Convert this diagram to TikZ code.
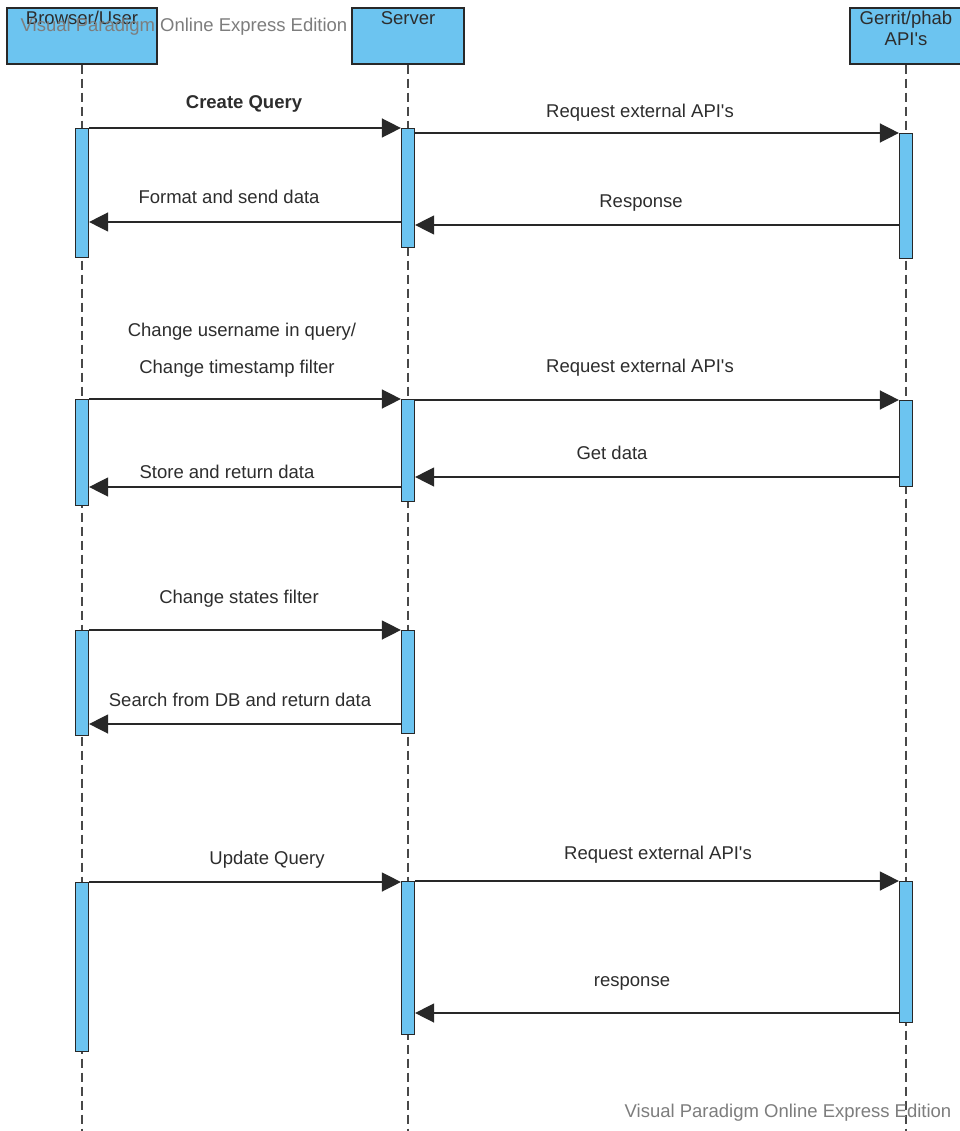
\documentclass[tikz,border=0pt]{standalone}
\usepackage{fontspec}
\setmainfont{Liberation Sans}
\usetikzlibrary{arrows.meta}
\definecolor{actblue}{RGB}{108,196,240}
\definecolor{linegray}{RGB}{40,40,40}
\definecolor{txtgray}{RGB}{45,45,45}
\definecolor{wmgray}{RGB}{125,125,125}
\newcommand{\apos}{\textquotesingle}
\begin{document}
\begin{tikzpicture}[x=1pt,y=-1pt,
  pbox/.style={draw=linegray, line width=1.3pt, fill=actblue, minimum height=56pt, inner sep=0pt},
  ptext/.style={text=txtgray, inner sep=4pt, align=center, font=\fontsize{18.5}{21}\selectfont},
  act/.style={draw=linegray, line width=1.2pt, fill=actblue, minimum width=13pt, inner sep=0pt, anchor=north},
  lifeline/.style={draw=linegray!85, line width=1.5pt, dash pattern=on 9pt off 5pt},
  msg/.style={draw=linegray, line width=1.4pt, -{Triangle[length=19pt,width=19pt]}},
  lbl/.style={text=txtgray, inner sep=0pt, font=\fontsize{18.5}{21}\selectfont},
  wm/.style={text=wmgray, inner sep=0pt, font=\fontsize{18.5}{21}\selectfont}
]
\useasboundingbox (0,0) rectangle (959,1131);
\fill[white] (0,0) rectangle (959,1131);

% participants
\node[pbox, minimum width=150pt] (bu) at (82,36) {};
\node[pbox, minimum width=112pt] (sv) at (408,36) {};
\node[pbox, minimum width=112pt] (gp) at (906,36) {};
\node[ptext, anchor=north] (butxt) at (bu.north) {Browser/User};
\node[ptext, anchor=north] (svtxt) at (sv.north) {Server};
\node[ptext, anchor=north] (gptxt) at (gp.north) {Gerrit/phab\\API\apos s};

% lifeline ends
\coordinate (buend) at (82,1131);
\coordinate (svend) at (408,1131);
\coordinate (gpend) at (906,1131);
\draw[lifeline] (bu.south) -- (buend);
\draw[lifeline] (sv.south) -- (svend);
\draw[lifeline] (gp.south) -- (gpend);

% activations
\node[act, minimum height=129pt] (ba1) at (82,128) {};
\node[act, minimum height=119pt] (sa1) at (408,128) {};
\node[act, minimum height=125pt] (ga1) at (906,133) {};

\node[act, minimum height=106pt] (ba2) at (82,399) {};
\node[act, minimum height=102pt] (sa2) at (408,399) {};
\node[act, minimum height=86pt] (ga2) at (906,400) {};

\node[act, minimum height=105pt] (ba3) at (82,630) {};
\node[act, minimum height=103pt] (sa3) at (408,630) {};

\node[act, minimum height=169pt] (ba4) at (82,882) {};
\node[act, minimum height=153pt] (sa4) at (408,881) {};
\node[act, minimum height=141pt] (ga4) at (906,881) {};

% section 1
\draw[msg] (ba1.north east) -- (sa1.north west);
\draw[msg] (sa1.east |- ga1.north) -- (ga1.north west);
\draw[msg] (ga1.west |- 0,225) -- (sa1.east |- 0,225);
\draw[msg] (sa1.west |- 0,222) -- (ba1.east |- 0,222);
\node[lbl, font=\fontsize{18.5}{21}\selectfont\bfseries] (l1) at (244,104) {Create Query};
\node[lbl] (l2) at (640,113) {Request external API\apos s};
\node[lbl] (l3) at (641,203) {Response};
\node[lbl] (l4) at (229,197) {Format and send data};

% section 2
\draw[msg] (ba2.north east) -- (sa2.north west);
\draw[msg] (sa2.east |- ga2.north) -- (ga2.north west);
\draw[msg] (ga2.west |- 0,477) -- (sa2.east |- 0,477);
\draw[msg] (sa2.west |- 0,487) -- (ba2.east |- 0,487);
\node[lbl] (l5) at (242,332) {Change username in query/};
\node[lbl] (l6) at (237,369) {Change timestamp filter};
\node[lbl] (l7) at (640,368) {Request external API\apos s};
\node[lbl] (l8) at (612,453) {Get data};
\node[lbl] (l9) at (227,472) {Store and return data};

% section 3
\draw[msg] (ba3.north east) -- (sa3.north west);
\draw[msg] (sa3.west |- 0,724) -- (ba3.east |- 0,724);
\node[lbl] (l10) at (239,599) {Change states filter};
\node[lbl] (l11) at (240,700) {Search from DB and return data};

% section 4
\draw[msg] (ba4.north east) -- (sa4.west |- ba4.north);
\draw[msg] (sa4.north east) -- (ga4.north west);
\draw[msg] (ga4.west |- 0,1013) -- (sa4.east |- 0,1013);
\node[lbl] (l12) at (267,860) {Update Query};
\node[lbl] (l13) at (658,855) {Request external API\apos s};
\node[lbl] (l14) at (632,983) {response};

% watermarks
\node[wm] (wm1) at (184,27) {Visual Paradigm Online Express Edition};
\node[wm] (wm2) at (788,1113) {Visual Paradigm Online Express Edition};
\end{tikzpicture}
\end{document}
